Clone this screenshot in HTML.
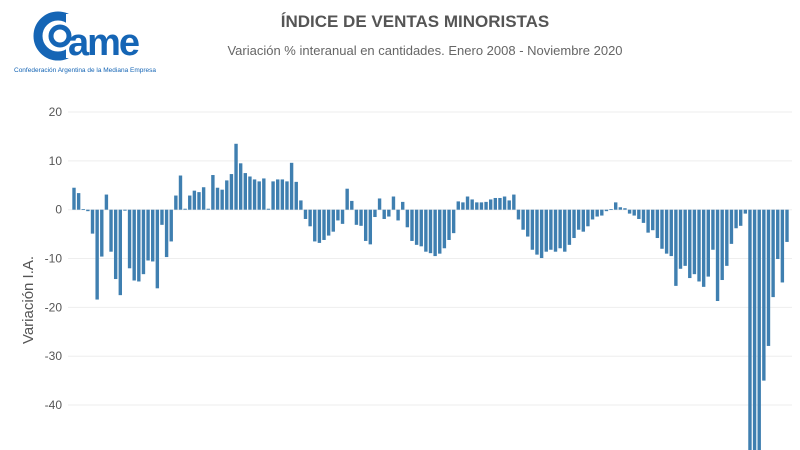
<!DOCTYPE html>
<html><head><meta charset="utf-8"><style>
html,body{margin:0;background:#fff;width:800px;height:450px;overflow:hidden;font-family:"Liberation Sans",sans-serif}
svg{display:block;overflow:hidden}
</style></head><body>
<svg width="800" height="450" viewBox="0 0 800 450" xmlns="http://www.w3.org/2000/svg">
<defs><clipPath id="plotclip"><rect x="60" y="90" width="740" height="360"/></clipPath></defs>
<g>
<circle cx="58" cy="36" r="20" fill="none" stroke="#1565b5" stroke-width="9"/>
<rect x="66" y="14" width="18" height="44" fill="#fff"/>
<circle cx="60" cy="36" r="9" fill="none" stroke="#1565b5" stroke-width="5"/>
<text x="68" y="55" font-size="38" font-weight="bold" fill="#1565b5" letter-spacing="-2">ame</text>
<text x="14" y="72" font-size="6.5" fill="#1565b5">Confederación Argentina de la Mediana Empresa</text>
</g>
<text x="415" y="27" text-anchor="middle" font-size="17" font-weight="bold" fill="#555">ÍNDICE DE VENTAS MINORISTAS</text>
<text x="425" y="55" text-anchor="middle" font-size="13" fill="#666">Variación % interanual en cantidades. Enero 2008 - Noviembre 2020</text>
<text transform="translate(33,300) rotate(-90)" text-anchor="middle" font-size="15" fill="#555">Variación I.A.</text>
<g id="grid"></g><g id="bars" clip-path="url(#plotclip)"></g>
</svg>
<script>
const yTicks=[20,10,0,-10,-20,-30,-40];
const months=155;
const values=[4.5,3.4,0.1,-0.3,-4.9,-18.4,-9.6,3.1,-8.6,-14.2,-17.5,-0.2,-12,-14.5,-14.7,-13.2,-10.4,-10.6,-16.1,-3.1,-9.7,-6.5,2.9,7,0.2,2.9,3.9,3.6,4.6,0.2,7.1,4.5,4.1,6,7.3,13.5,
9.5,7.5,6.8,6.2,5.8,6.4,0.2,5.8,6.2,6.2,5.8,9.6,5.7,1.9,-1.9,-3.4,-6.5,-6.8,-6.2,-5.3,-4.5,-2.2,-2.9,4.3,1.8,-3.1,-3.3,-6.4,-7.1,-1.5,2.3,-1.9,-1.4,2.7,-2.2,1.6,-3.6,-6.4,-7.2,-7.5,-8.6,
-8.9,-9.5,-9,-7.9,-6.2,-4.8,1.7,1.5,2.7,2.1,1.5,1.5,1.6,2.1,2.4,2.4,2.7,1.9,3.1,-2,-4.1,-5.5,-8.2,-9.2,-9.9,-8.6,-8.2,-8.6,-7.9,-8.6,-7.2,-5.8,-4.1,-4.5,-3.4,-2,-1.4,-1.2,-0.3,0.1,1.5,
0.5,0.3,-0.8,-1.2,-1.9,-2.7,-4.7,-4.2,-5.8,-8,-9,-9.5,-15.6,-12.1,-11.5,-14,-13.2,-14.7,-15.8,-13.7,-8.2,-18.7,-14.4,-11.5,-7,-3.8,-3.3,-0.8,-50,-57.6,-50,-35,-27.9,-17.9,-10.1,-14.9,-6.6];
const NS="http://www.w3.org/2000/svg";
const y=v=>209.7-v*4.883;
const x=i=>74+i*(713/154);
const grid=document.getElementById('grid'),bars=document.getElementById('bars');
yTicks.forEach(t=>{
 const l=document.createElementNS(NS,'line');
 l.setAttribute('x1',68);l.setAttribute('x2',792);l.setAttribute('y1',y(t));l.setAttribute('y2',y(t));
 l.setAttribute('stroke','#eee');l.setAttribute('stroke-width','1');
 
 
 grid.appendChild(l);
 const tx=document.createElementNS(NS,'text');
 tx.setAttribute('x',62);tx.setAttribute('y',y(t)+4);tx.setAttribute('text-anchor','end');
 tx.setAttribute('font-size','12');tx.setAttribute('fill','#555');tx.textContent=t;
 
 
 grid.appendChild(tx);
});
values.forEach((v,i)=>{
 const r=document.createElementNS(NS,'rect');
 const y0=y(0),y1=Math.min(y(v),450);
 r.setAttribute('x',x(i)-1.7);r.setAttribute('width',3.4);
 r.setAttribute('y',Math.min(y0,y1));r.setAttribute('height',Math.max(Math.abs(y1-y0),0.8));
 r.setAttribute('fill','#3f7fb0');
 
 
 bars.appendChild(r);
});
</script>
</body></html>
